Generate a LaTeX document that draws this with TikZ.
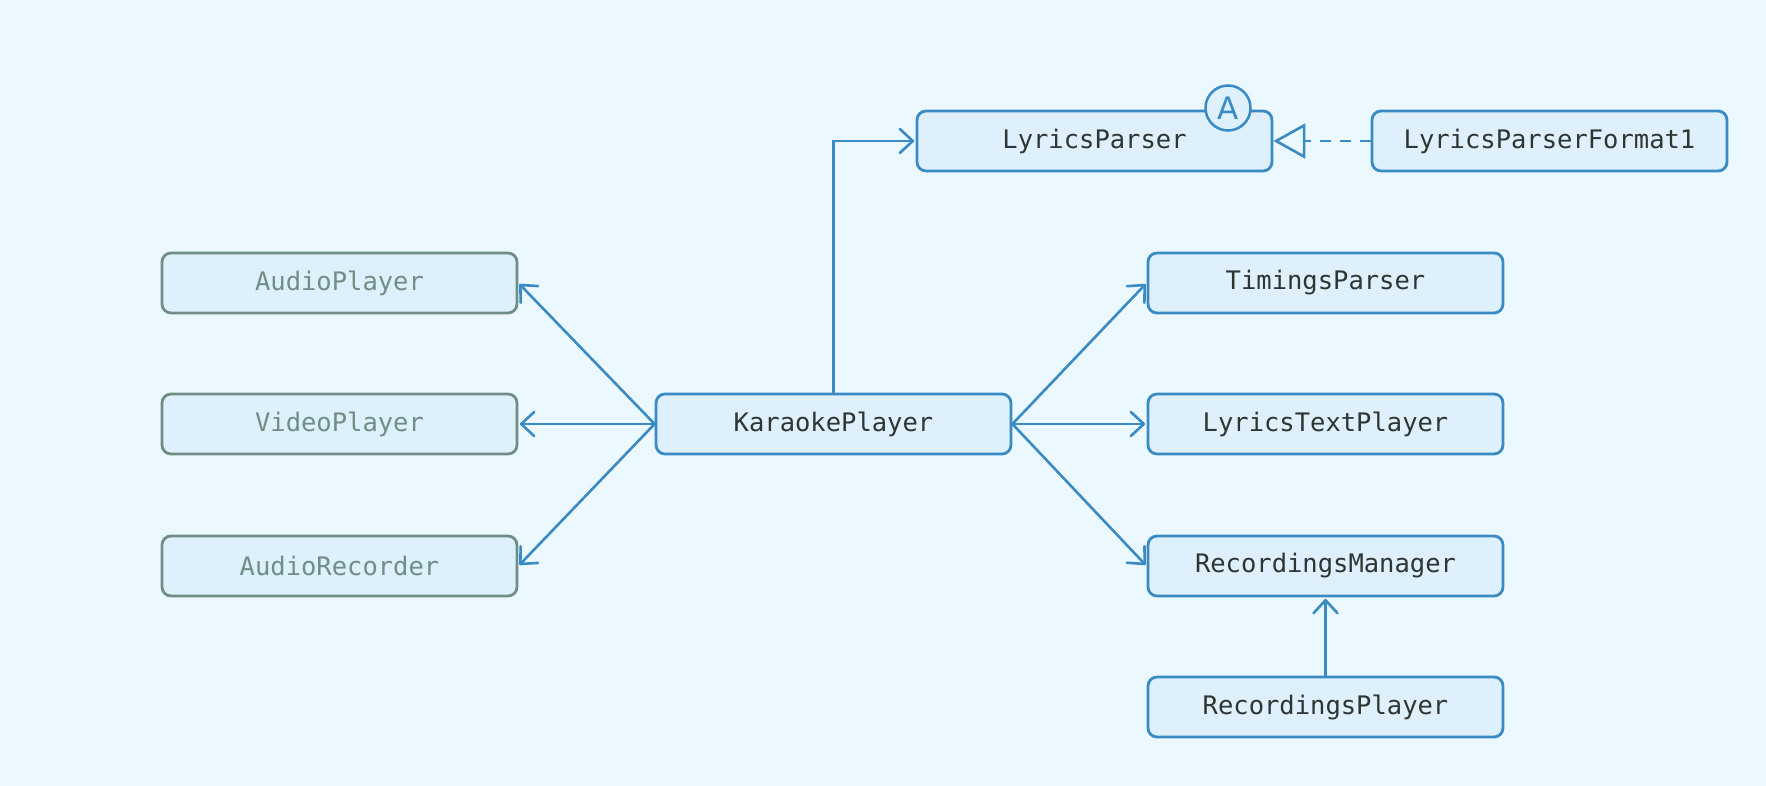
\documentclass[tikz,border=0pt]{standalone}
\usepackage{fontspec}
\setmonofont{DejaVu Sans Mono}
\setsansfont{DejaVu Sans}
\usetikzlibrary{arrows.meta}

\definecolor{bgcol}{HTML}{EBF8FF}
\definecolor{boxfill}{HTML}{DDF0FB}
\definecolor{boxline}{HTML}{3A8AC3}
\definecolor{extline}{HTML}{6F8F86}
\definecolor{textcol}{HTML}{2F3533}

\begin{document}
\begin{tikzpicture}[
    x=1pt, y=-1pt,
    class/.style={rectangle, rounded corners=9pt, draw=boxline, line width=2.8pt,
        fill=boxfill, minimum width=355pt, minimum height=60pt, inner sep=0pt,
        text=textcol, font=\ttfamily\fontsize{25.5}{30}\selectfont},
    extclass/.style={class, draw=extline, text=extline},
    abstract/.style={circle, draw=boxline, line width=2.5pt, fill=boxfill,
        minimum size=45pt, inner sep=0pt, text=boxline,
        font=\sffamily\fontsize{31}{34}\selectfont},
    edge/.style={line width=2.6pt, draw=boxline, shorten >=1.5pt,
        -{Straight Barb[length=13pt, width=24pt, line width=2.6pt, round]}},
    realize/.style={line width=2.6pt, draw=boxline, dash pattern=on 11pt off 9pt,
        -{Triangle[open, length=32pt, width=35pt, line width=2.6pt]}}
]
    \fill[bgcol] (0,0) rectangle (1766,786);

    \node[class] (karaoke) at (833.5,424) {KaraokePlayer};
    \node[class] (lyrics) at (1094.5,141) {LyricsParser};
    \node[abstract] (abs) at (1228,108) {A};
    \node[class] (format) at (1549.5,141) {LyricsParserFormat1};
    \node[extclass] (audio) at (339.5,283) {AudioPlayer};
    \node[extclass] (video) at (339.5,424) {VideoPlayer};
    \node[extclass] (recorder) at (339.5,566) {AudioRecorder};
    \node[class] (timings) at (1325.5,283) {TimingsParser};
    \node[class] (text) at (1325.5,424) {LyricsTextPlayer};
    \node[class] (manager) at (1325.5,566) {RecordingsManager};
    \node[class] (playback) at (1325.5,707) {RecordingsPlayer};

    \draw[edge] (karaoke.west) -- (audio.east);
    \draw[edge] (karaoke.west) -- (video.east);
    \draw[edge] (karaoke.west) -- (recorder.east);
    \draw[edge] (karaoke.east) -- (timings.west);
    \draw[edge] (karaoke.east) -- (text.west);
    \draw[edge] (karaoke.east) -- (manager.west);
    \draw[edge] (karaoke.north) |- (lyrics.west);
    \draw[edge] (playback.north) -- (manager.south);
    \draw[realize] (format.west) -- (lyrics.east);
\end{tikzpicture}
\end{document}
